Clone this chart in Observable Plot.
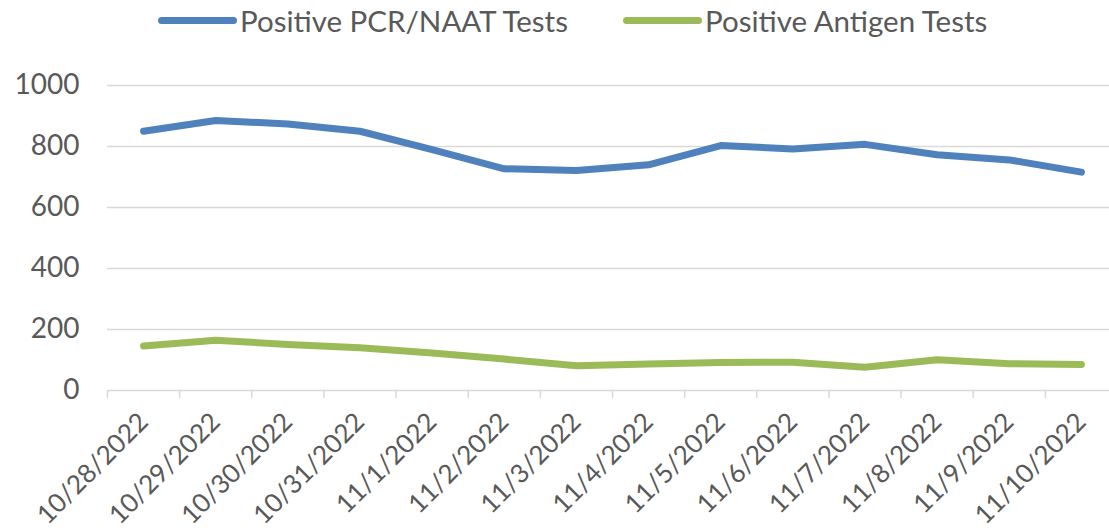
<!DOCTYPE html>
<html>
<head>
<meta charset="utf-8">
<script src="https://cdn.jsdelivr.net/npm/d3@7"></script>
<script src="https://cdn.jsdelivr.net/npm/@observablehq/plot@0.6"></script>
<style>
  html, body { margin: 0; padding: 0; background: #fff; }
  #wrap { width: 1109px; height: 531px; overflow: hidden; }
  #legend { position: relative; height: 45px; font-family: Lato, sans-serif; font-size: 29.5px; color: #595959; }
  .item { position: absolute; top: 0; height: 41px; display: flex; align-items: center; white-space: nowrap; }
  .sw { display: inline-block; width: 79px; height: 7px; border-radius: 4px; margin-right: 3px; }
</style>
</head>
<body>
<div id="wrap">
  <div id="legend"></div>
  <div id="chart"></div>
</div>
<script>
const dates = ["10/28/2022","10/29/2022","10/30/2022","10/31/2022","11/1/2022","11/2/2022","11/3/2022","11/4/2022","11/5/2022","11/6/2022","11/7/2022","11/8/2022","11/9/2022","11/10/2022"];
const pcr = [850, 885, 874, 850, 790, 727, 721, 740, 803, 792, 807, 773, 756, 716];
const antigen = [146, 165, 151, 140, 123, 103, 81, 87, 92, 93, 76, 101, 88, 85];
const seriesNames = ["Positive PCR/NAAT Tests", "Positive Antigen Tests"];
const seriesColors = ["#4F81BD", "#9BBB59"];
const yTicks = [0, 200, 400, 600, 800, 1000];

// legend
const legend = document.getElementById("legend");
const legendLeft = [158, 623];
seriesNames.forEach((name, k) => {
  const it = document.createElement("div");
  it.className = "item";
  it.style.left = legendLeft[k] + "px";
  const sw = document.createElement("span");
  sw.className = "sw";
  sw.style.background = seriesColors[k];
  const tx = document.createElement("span");
  tx.textContent = name;
  it.appendChild(sw); it.appendChild(tx);
  legend.appendChild(it);
});

const idx = dates.map((d, i) => i);
const bounds = d3.range(dates.length + 1).map(i => i - 0.5);
const rows = [
  ...idx.map(i => ({i, v: pcr[i], s: seriesNames[0]})),
  ...idx.map(i => ({i, v: antigen[i], s: seriesNames[1]}))
];

const chart = Plot.plot({
  width: 1109,
  height: 486,
  marginLeft: 107,
  marginRight: -8,
  marginTop: 40,
  marginBottom: 141,
  style: {fontFamily: "Lato, sans-serif", fontSize: "27px", color: "#595959", background: "#fff", overflow: "hidden"},
  x: {type: "linear", domain: [-0.5, dates.length - 0.5], axis: null},
  y: {domain: [0, 1000], axis: null},
  color: {domain: seriesNames, range: seriesColors},
  marks: [
    Plot.ruleY(yTicks, {stroke: "#d9d9d9", strokeWidth: 1.5}),
    Plot.ruleX(bounds, {x: d => d, y1: 0, y2: 0, insetBottom: -8, stroke: "#d9d9d9", strokeWidth: 1.5}),
    Plot.text(yTicks, {x: -0.5, y: d => d, text: d => String(d), textAnchor: "end", dx: -28, fill: "#595959", fontSize: 28}),
    Plot.text(idx, {x: d => d, y: 0, text: d => dates[d], rotate: -45, textAnchor: "end", lineAnchor: "bottom", dx: 6, dy: 33, fill: "#595959", fontSize: 26}),
    Plot.line(rows, {x: "i", y: "v", z: "s", stroke: "s", strokeWidth: 7, strokeLinecap: "round", strokeLinejoin: "round"})
  ]
});
document.getElementById("chart").appendChild(chart);
</script>
</body>
</html>
